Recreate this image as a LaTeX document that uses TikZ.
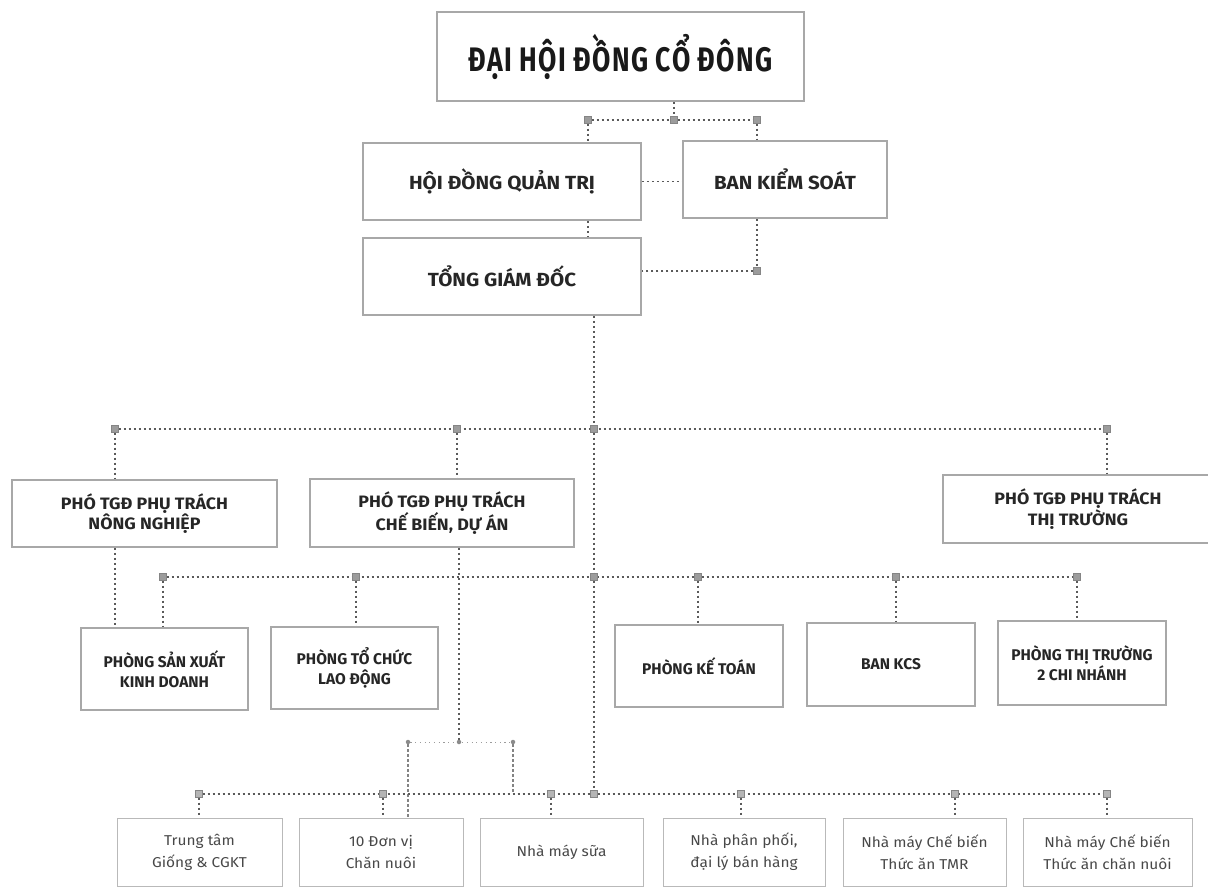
\documentclass[tikz,border=0pt]{standalone}
\usepackage{fontspec}
\setmainfont{Fira Sans}
\newfontfamily\titlefont{Fira Sans}[FakeStretch=0.78,LetterSpace=4]
\newfontfamily\widefont{Fira Sans}[FakeStretch=1.08]
\definecolor{boxgray}{HTML}{A8A8A8}
\definecolor{linegray}{HTML}{5A5A5A}
\definecolor{sqgray}{HTML}{9C9C9C}
\definecolor{textdark}{HTML}{262626}
\definecolor{textmid}{HTML}{484848}
\pgfdeclarelayer{bg}
\pgfsetlayers{bg,main}
\begin{document}
\begin{tikzpicture}[x=1pt,y=-1pt,
  box/.style={draw=boxgray, line width=1.6pt, rectangle, inner sep=2pt, align=center, text=textdark},
  bigbox/.style={box, font=\widefont\bfseries\fontsize{19}{22}\selectfont},
  vpbox/.style={box, font=\widefont\bfseries\fontsize{16.5}{17.5}\selectfont},
  depbox/.style={box, font=\bfseries\fontsize{15.5}{20}\selectfont},
  unitbox/.style={box, draw=boxgray!80, line width=0.8pt, text=textmid, font=\widefont\fontsize{14.3}{22}\selectfont},
  conn/.style={draw=linegray, line width=1.3pt, dash pattern=on 2.2pt off 2.8pt},
  lightconn/.style={draw=linegray!60, line width=1pt, dash pattern=on 1.2pt off 3.5pt},
  sq/.style={rectangle, fill=sqgray, draw=sqgray!85!black, line width=0.3pt, minimum size=7pt, inner sep=0pt},
  dotn/.style={circle, fill=linegray!70, minimum size=4.5pt, inner sep=0pt}]
\useasboundingbox (0,0) rectangle (1208,890);

% ---- boxes ----
\node[box, minimum width=367pt, minimum height=89pt, font=\titlefont\bfseries\fontsize{34}{38}\selectfont, text=black!90] (top) at (620.5,56.5) {ĐẠI HỘI ĐỒNG CỔ ĐÔNG};
\node[bigbox, minimum width=278pt, minimum height=77pt] (hdqt) at (502,181.5) {HỘI ĐỒNG QUẢN TRỊ};
\node[bigbox, minimum width=204pt, minimum height=77pt] (bks) at (785,179.5) {BAN KIỂM SOÁT};
\node[bigbox, minimum width=278pt, minimum height=77pt] (tgd) at (502,276.5) {TỔNG GIÁM ĐỐC};

\node[vpbox, minimum width=265pt, minimum height=67pt] (nn) at (144.5,513.5) {PHÓ TGĐ PHỤ TRÁCH\\NÔNG NGHIỆP};
\node[vpbox, minimum width=264pt, minimum height=68pt] (cb) at (442,513) {PHÓ TGĐ PHỤ TRÁCH\\CHẾ BIẾN, DỰ ÁN};
\node[vpbox, minimum width=270pt, minimum height=68pt] (tt) at (1078,509) {PHÓ TGĐ PHỤ TRÁCH\\THỊ TRƯỜNG};

\node[depbox, minimum width=167pt, minimum height=82pt] (psx) at (164.5,669) {PHÒNG SẢN XUẤT\\KINH DOANH};
\node[depbox, minimum width=167pt, minimum height=82pt] (ptc) at (354.5,668) {PHÒNG TỔ CHỨC\\LAO ĐỘNG};
\node[depbox, minimum width=168pt, minimum height=82pt] (pkt) at (699,666) {PHÒNG KẾ TOÁN};
\node[depbox, minimum width=168pt, minimum height=83pt] (kcs) at (891,664.5) {BAN KCS};
\node[depbox, minimum width=168pt, minimum height=84pt] (ptt) at (1082,663) {PHÒNG THỊ TRƯỜNG\\2 CHI NHÁNH};

\node[unitbox, minimum width=165pt, minimum height=68pt] (u1) at (199.5,852) {Trung tâm\\Giống \& CGKT};
\node[unitbox, minimum width=164pt, minimum height=68pt] (u2) at (381,852) {10 Đơn vị\\Chăn nuôi};
\node[unitbox, minimum width=163pt, minimum height=68pt] (u3) at (561.5,852) {Nhà máy sữa};
\node[unitbox, minimum width=162pt, minimum height=68pt] (u4) at (744,852) {Nhà phân phối,\\đại lý bán hàng};
\node[unitbox, minimum width=163pt, minimum height=68pt] (u5) at (924.5,852) {Nhà máy Chế biến\\Thức ăn TMR};
\node[unitbox, minimum width=169pt, minimum height=68pt] (u6) at (1107.5,852) {Nhà máy Chế biến\\Thức ăn chăn nuôi};

% ---- junction squares ----
\node[sq] (sa) at (588,120) {};
\node[sq] (s0) at (674,120) {};
\node[sq] (sb) at (757,120) {};
\node[sq] (sc) at (757,271) {};

\node[sq] (b1a) at (115,429) {};
\node[sq] (b1b) at (457,429) {};
\node[sq] (b1c) at (594,429) {};
\node[sq] (b1d) at (1107,429) {};

\node[sq] (b2a) at (163,577) {};
\node[sq] (b2b) at (356,577) {};
\node[sq] (b2c) at (594,577) {};
\node[sq] (b2d) at (698,577) {};
\node[sq] (b2e) at (896,577) {};
\node[sq] (b2f) at (1077,577) {};

\node[sq, fill=sqgray!75] (b3a) at (199,794) {};
\node[sq, fill=sqgray!75] (b3b) at (383,794) {};
\node[sq, fill=sqgray!75] (b3c) at (551,794) {};
\node[sq, fill=sqgray!75] (b3d) at (594,794) {};
\node[sq, fill=sqgray!75] (b3e) at (741,794) {};
\node[sq, fill=sqgray!75] (b3f) at (955,794) {};
\node[sq, fill=sqgray!75] (b3g) at (1107,794) {};

\node[dotn] (d1) at (408,742) {};
\node[dotn] (d2) at (459,742) {};
\node[dotn] (d3) at (513,742) {};

% ---- connectors ----
\begin{pgfonlayer}{bg}
\draw[conn] (top.south -| s0) -- (s0);
\draw[conn] (sa) -- (s0) -- (sb);
\draw[conn] (sa) -- (sa |- hdqt.north);
\draw[conn] (sb) -- (sb |- bks.north);
\draw[conn] (hdqt.east) -- (hdqt.east -| bks.west);
\draw[conn] (hdqt.south -| sa) -- (tgd.north -| sa);
\draw[conn] (bks.south -| sc) -- (sc) -- (sc -| tgd.east);

\draw[conn] (tgd.south -| b1c) -- (b1c) -- (b2c) -- (b3d);
\draw[conn] (b1a) -- (b1d);
\draw[conn] (b1a) -- (b1a |- nn.north);
\draw[conn] (b1b) -- (b1b |- cb.north);
\draw[conn] (b1d) -- (b1d |- tt.north);
\draw[conn] (nn.south -| b1a) -- (psx.north -| b1a);

\draw[conn] (b2a) -- (b2f);
\draw[conn] (b2a) -- (b2a |- psx.north);
\draw[conn] (b2b) -- (b2b |- ptc.north);
\draw[conn] (b2d) -- (b2d |- pkt.north);
\draw[conn] (b2e) -- (b2e |- kcs.north);
\draw[conn] (b2f) -- (b2f |- ptt.north);

\draw[conn] (cb.south -| d2) -- (d2);
\draw[lightconn] (d1) -- (d3);
\draw[conn, draw=linegray!75] (d1) -- (d1 |- u2.north);
\draw[conn, draw=linegray!75] (d3) -- (d3 |- b3a);

\draw[conn] (b3a) -- (b3g);
\draw[conn] (b3a) -- (b3a |- u1.north);
\draw[conn] (b3b) -- (b3b |- u2.north);
\draw[conn] (b3c) -- (b3c |- u3.north);
\draw[conn] (b3e) -- (b3e |- u4.north);
\draw[conn] (b3f) -- (b3f |- u5.north);
\draw[conn] (b3g) -- (b3g |- u6.north);
\end{pgfonlayer}
\end{tikzpicture}
\end{document}
